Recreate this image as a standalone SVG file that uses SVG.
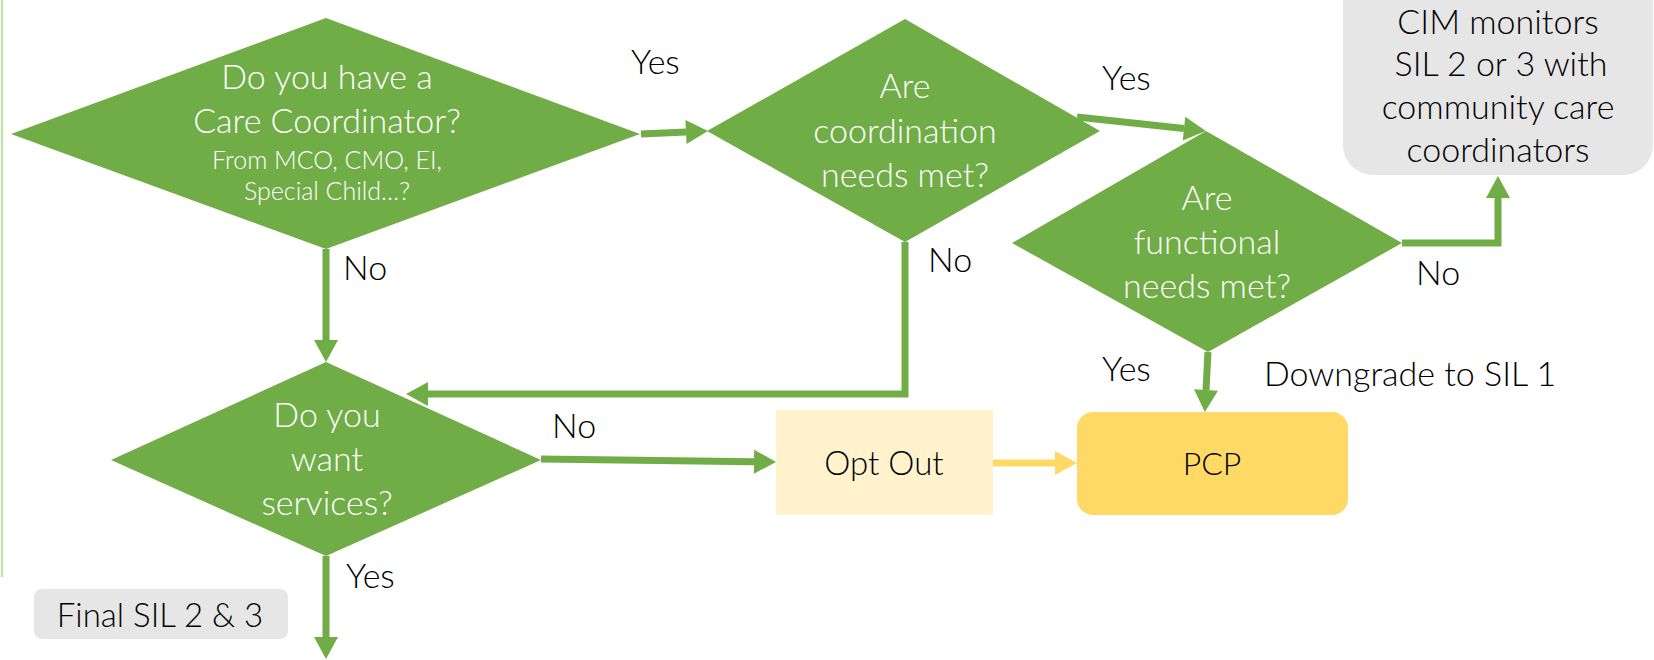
<svg xmlns="http://www.w3.org/2000/svg" width="1654" height="660" viewBox="0 0 1654 660">
  <defs>
    <marker id="headGreen" markerUnits="userSpaceOnUse" markerWidth="24" markerHeight="24" refX="0" refY="12" orient="auto" overflow="visible">
      <path d="M0,0 L22,12 L0,24 Z" fill="#70ad47"/>
    </marker>
    <marker id="headGold" markerUnits="userSpaceOnUse" markerWidth="24" markerHeight="24" refX="0" refY="12" orient="auto" overflow="visible">
      <path d="M0,0 L22,12 L0,24 Z" fill="#ffd966"/>
    </marker>
    <style>
      .decision { fill: #70ad47; }
      .q { font-family: Lato, "Open Sans", "Liberation Sans", sans-serif; font-weight: 300; fill: #ffffff; text-anchor: middle; font-size: 34px; }
      .q-small { font-size: 25px; }
      .lbl { font-family: Lato, "Open Sans", "Liberation Sans", sans-serif; font-weight: 300; fill: #000000; font-size: 34px; }
      .box-text { font-family: Lato, "Open Sans", "Liberation Sans", sans-serif; font-weight: 300; fill: #000000; text-anchor: middle; }
      .flow { fill: none; stroke: #70ad47; stroke-width: 7; marker-end: url(#headGreen); }
      .flow-gold { fill: none; stroke: #ffd966; stroke-width: 7; marker-end: url(#headGold); }
    </style>
  </defs>

  <rect width="1654" height="660" fill="#ffffff"/>
  <!-- thin rule along the left margin -->
  <line x1="2" y1="0" x2="2" y2="577" stroke="#c5e0b4" stroke-width="2.5"/>

  <!-- connectors -->
  <g id="connectors">
    <polyline class="flow" points="641,134 686,132"/>
    <polyline class="flow" points="1077,117 1184,128.6"/>
    <polyline class="flow" points="326,249 326,340"/>
    <polyline class="flow" points="905,242 905,394 428,394"/>
    <polyline class="flow" points="541,459 754,461.7"/>
    <polyline class="flow-gold" points="993,463 1055,463"/>
    <polyline class="flow" points="1208,352 1206,390"/>
    <polyline class="flow" points="1402,243 1498,243 1498,198"/>
    <polyline class="flow" points="326,556 326,637"/>
  </g>

  <!-- decision: care coordinator -->
  <g id="q-coordinator">
    <polygon class="decision" points="11,134 326,18 640,134 326,249"/>
    <text class="q" x="327" y="89">Do you have a</text>
    <text class="q" x="327" y="133">Care Coordinator?</text>
    <text class="q q-small" x="327" y="169">From MCO, CMO, EI,</text>
    <text class="q q-small" x="327" y="200">Special Child…?</text>
  </g>

  <!-- decision: coordination needs -->
  <g id="q-coordination">
    <polygon class="decision" points="707,131 905,19 1100,131 905,242"/>
    <text class="q" x="905" y="98">Are</text>
    <text class="q" x="905" y="143">coordination</text>
    <text class="q" x="905" y="187">needs met?</text>
  </g>

  <!-- decision: functional needs -->
  <g id="q-functional">
    <polygon class="decision" points="1012,243 1206,131 1402,243 1208,352"/>
    <text class="q" x="1207" y="210">Are</text>
    <text class="q" x="1207" y="254">functional</text>
    <text class="q" x="1207" y="298">needs met?</text>
  </g>

  <!-- decision: want services -->
  <g id="q-services">
    <polygon class="decision" points="111,460 326,362 541,460 326,556"/>
    <text class="q" x="327" y="427">Do you</text>
    <text class="q" x="327" y="471">want</text>
    <text class="q" x="327" y="515">services?</text>
  </g>

  <!-- CIM monitoring -->
  <g id="cim-monitors">
    <rect x="1343" y="-40" width="310" height="215" rx="30" ry="30" fill="#e7e6e6"/>
    <text class="box-text" font-size="34" x="1498" y="34">CIM monitors</text>
    <text class="box-text" font-size="34" x="1501" y="76">SIL 2 or 3 with</text>
    <text class="box-text" font-size="34" x="1498" y="119">community care</text>
    <text class="box-text" font-size="34" x="1498" y="162">coordinators</text>
  </g>

  <!-- opt out -->
  <g id="opt-out">
    <rect x="776" y="410" width="217" height="105" fill="#fff2cc"/>
    <text class="box-text" font-size="33" x="884" y="475">Opt Out</text>
  </g>

  <!-- primary care provider -->
  <g id="pcp">
    <rect x="1077" y="412" width="271" height="103" rx="16" ry="16" fill="#ffd966"/>
    <text class="box-text" font-size="32" x="1212" y="475">PCP</text>
  </g>

  <!-- final level tag -->
  <g id="final-sil">
    <rect x="34" y="589" width="254" height="50" rx="8" ry="8" fill="#e7e6e6"/>
    <text class="box-text" font-size="33" x="160" y="627">Final SIL 2 &amp; 3</text>
  </g>

  <!-- branch labels -->
  <g id="labels">
    <text class="lbl" x="631" y="74">Yes</text>
    <text class="lbl" x="1102" y="90">Yes</text>
    <text class="lbl" x="343" y="280">No</text>
    <text class="lbl" x="928" y="272">No</text>
    <text class="lbl" x="1416" y="285">No</text>
    <text class="lbl" x="552" y="438">No</text>
    <text class="lbl" x="1102" y="381">Yes</text>
    <text class="lbl" x="1264" y="386">Downgrade to SIL 1</text>
    <text class="lbl" x="346" y="588">Yes</text>
  </g>
</svg>
